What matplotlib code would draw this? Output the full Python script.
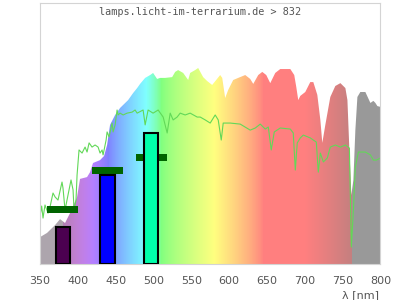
import numpy as np
import matplotlib
matplotlib.use('Agg')
import matplotlib.pyplot as plt

# lamp spectrum envelope (nm, relative intensity %)
spec_nm = [350, 359.3, 369.9, 376.5, 383.1, 389.7, 399.0, 402.9, 412.2, 416.2, 420.1,
           429.4, 434.7, 438.7, 442.6, 449.3, 455.9, 466.5, 473.1, 478.4, 482.3, 489.0,
           495.6, 499.5, 504.8, 508.8, 515.4, 524.7, 528.7, 532.6, 539.3, 545.9, 548.5,
           555.1, 559.1, 565.7, 571.0, 577.6, 582.9, 588.2, 590.9, 594.8, 598.8, 605.4,
           612.0, 621.3, 627.9, 631.9, 638.5, 643.8, 649.1, 654.4, 661.0, 667.6, 680.9,
           686.1, 688.8, 691.4, 694.1, 700.7, 707.3, 711.3, 716.6, 720.6, 723.2, 727.2,
           733.8, 740.4, 747.1, 753.7, 756.4, 759.0, 761.6, 764.3, 766.9, 769.6, 773.5,
           780.1, 786.8, 790.7, 793.4, 796.0, 800]
spec_val = [10.3, 11.9, 14.9, 17.2, 15.7, 19.5, 25.7, 32.6, 33.3, 35.2, 38.7,
            39.8, 41.4, 45.6, 53.3, 57.1, 59.8, 62.8, 65.5, 67.4, 69.0, 71.3,
            72.4, 73.2, 70.9, 71.3, 71.3, 71.6, 73.6, 74.3, 73.2, 70.5, 73.2,
            74.3, 75.1, 71.6, 70.1, 68.6, 70.5, 72.4, 71.3, 63.6, 66.7, 70.5,
            71.3, 72.4, 70.9, 69.0, 72.4, 73.6, 72.4, 69.3, 73.2, 74.7, 74.7,
            72.4, 67.8, 62.8, 64.4, 65.9, 69.7, 69.7, 64.8, 55.2, 46.4, 53.3,
            64.0, 68.2, 69.3, 67.4, 62.8, 43.7, 26.4, 32.2, 51.3, 64.0, 65.9,
            65.9, 61.7, 62.5, 61.7, 60.5, 60.2]

# daylight reference curve
sun_nm = [350.9, 352.2, 354.0, 356.6, 360.6, 363.2, 367.2, 369.9, 373.8, 379.1, 380.4,
          383.1, 385.7, 391.0, 393.7, 395.0, 397.6, 399.0, 401.6, 405.6, 409.6, 412.2,
          414.9, 418.8, 422.8, 426.8, 429.4, 432.1, 433.4, 437.4, 438.7, 441.3, 445.3,
          446.6, 449.3, 451.9, 453.2, 455.9, 459.9, 465.1, 471.8, 475.7, 478.4, 486.3,
          489.0, 492.9, 499.5, 506.2, 512.8, 518.1, 522.1, 526.0, 531.3, 535.3, 541.9,
          548.5, 557.8, 561.8, 568.4, 575.0, 581.6, 585.6, 589.6, 592.2, 601.5, 614.7,
          627.9, 634.6, 641.2, 647.8, 651.8, 655.7, 659.7, 667.6, 680.9, 684.8, 687.5,
          690.1, 694.1, 698.1, 707.3, 715.3, 717.9, 720.6, 724.6, 729.8, 733.8, 740.4,
          747.1, 753.7, 759.0, 760.3, 761.6, 764.3, 766.9, 770.9, 780.1, 786.8, 790.7,
          794.7, 800.0]
sun_val = [19.9, 22.2, 17.6, 22.6, 19.5, 21.8, 27.2, 25.7, 24.5, 31.4, 29.1,
           20.7, 24.5, 32.2, 28.4, 20.7, 24.5, 34.1, 43.7, 42.5, 44.8, 42.9,
           46.4, 44.8, 45.6, 44.8, 42.5, 43.7, 41.8, 47.5, 50.6, 48.7, 54.0,
           50.6, 53.3, 59.0, 57.1, 57.8, 57.1, 57.8, 58.2, 59.0, 57.8, 59.0,
           53.3, 59.0, 57.8, 59.0, 56.3, 50.2, 57.8, 55.2, 56.3, 57.8, 57.1,
           57.8, 56.3, 56.3, 55.2, 54.0, 57.1, 55.2, 47.5, 54.0, 54.0, 53.6,
           51.3, 52.1, 53.6, 51.7, 52.5, 43.7, 50.6, 52.1, 51.7, 50.2, 36.0,
           46.4, 48.3, 49.4, 48.3, 46.7, 35.2, 42.5, 39.1, 40.6, 44.8, 45.6,
           44.8, 45.6, 44.4, 25.7, 6.5, 20.7, 37.2, 42.9, 42.9, 41.8, 39.8,
           39.8, 40.6]

# photoreceptor peaks (bars) and target levels (markers)
peak_nm = [380, 439, 497]
peak_val = [14.3, 34.2, 50.1]
peak_colors = ['#4b0050', '#0000ff', '#00ffaa']
target_val = [21.0, 35.9, 40.9]


def spectral_rgb(wl):
    if wl < 380:
        return (0.68, 0.65, 0.68)
    if wl > 762:
        return (0.6, 0.6, 0.6)
    if wl < 440:
        r, g, b = (440 - wl) / 60, 0.0, 1.0
    elif wl < 490:
        r, g, b = 0.0, (wl - 440) / 50, 1.0
    elif wl < 510:
        r, g, b = 0.0, 1.0, (510 - wl) / 20
    elif wl < 580:
        r, g, b = (wl - 510) / 70, 1.0, 0.0
    elif wl < 645:
        r, g, b = 1.0, (645 - wl) / 65, 0.0
    else:
        r, g, b = 1.0, 0.0, 0.0
    if wl < 420:
        f = 0.3 + 0.7 * (wl - 380) / 40
    elif wl > 700:
        f = 0.3 + 0.7 * (780 - wl) / 80
    else:
        f = 1.0
    rgb = [(c * f) ** 0.8 if c > 0 else 0.0 for c in (r, g, b)]
    return tuple(0.5 + 0.5 * c for c in rgb)


fig = plt.figure(figsize=(4, 3), dpi=100)
ax = fig.add_axes([0.1, 0.12, 0.851, 0.87])
ax.set_xlim(350, 800)
ax.set_ylim(0, 100)

# rainbow strip clipped to the spectrum shape
wl = np.arange(350, 800.5, 0.5)
strip = np.array([[spectral_rgb(w) for w in wl]])
im = ax.imshow(strip, extent=[350, 800, 0, 100], aspect='auto',
               interpolation='nearest', zorder=1)
poly = ax.fill([spec_nm[0]] + spec_nm + [spec_nm[-1]], [0] + spec_val + [0],
               facecolor='none', edgecolor='none')[0]
im.set_clip_path(poly)

ax.plot(sun_nm, sun_val, color='#62d858', lw=0.8, zorder=2)

for x, v in zip(peak_nm, target_val):
    ax.bar(x, 2.6, bottom=v - 1.3, width=41, color='#006400', zorder=3)
ax.bar(peak_nm, peak_val, width=19, color=peak_colors, edgecolor='black',
       linewidth=1.5, zorder=4)

for s in ax.spines.values():
    s.set_color('#d4d4d4')
ax.set_yticks([])
ax.set_xticks(range(350, 801, 50))
ax.tick_params(axis='x', length=0, pad=9, labelsize=8, labelcolor='#555555')

fig.text(0.5, 0.96, 'lamps.licht-im-terrarium.de > 832', ha='center', va='center',
         family='DejaVu Sans Mono', fontsize=7.3, color='#555555')
fig.text(0.947, 0.015, 'λ [nm]', ha='right', va='center', fontsize=8, color='#555555')

fig.savefig('out.png', dpi=100)
